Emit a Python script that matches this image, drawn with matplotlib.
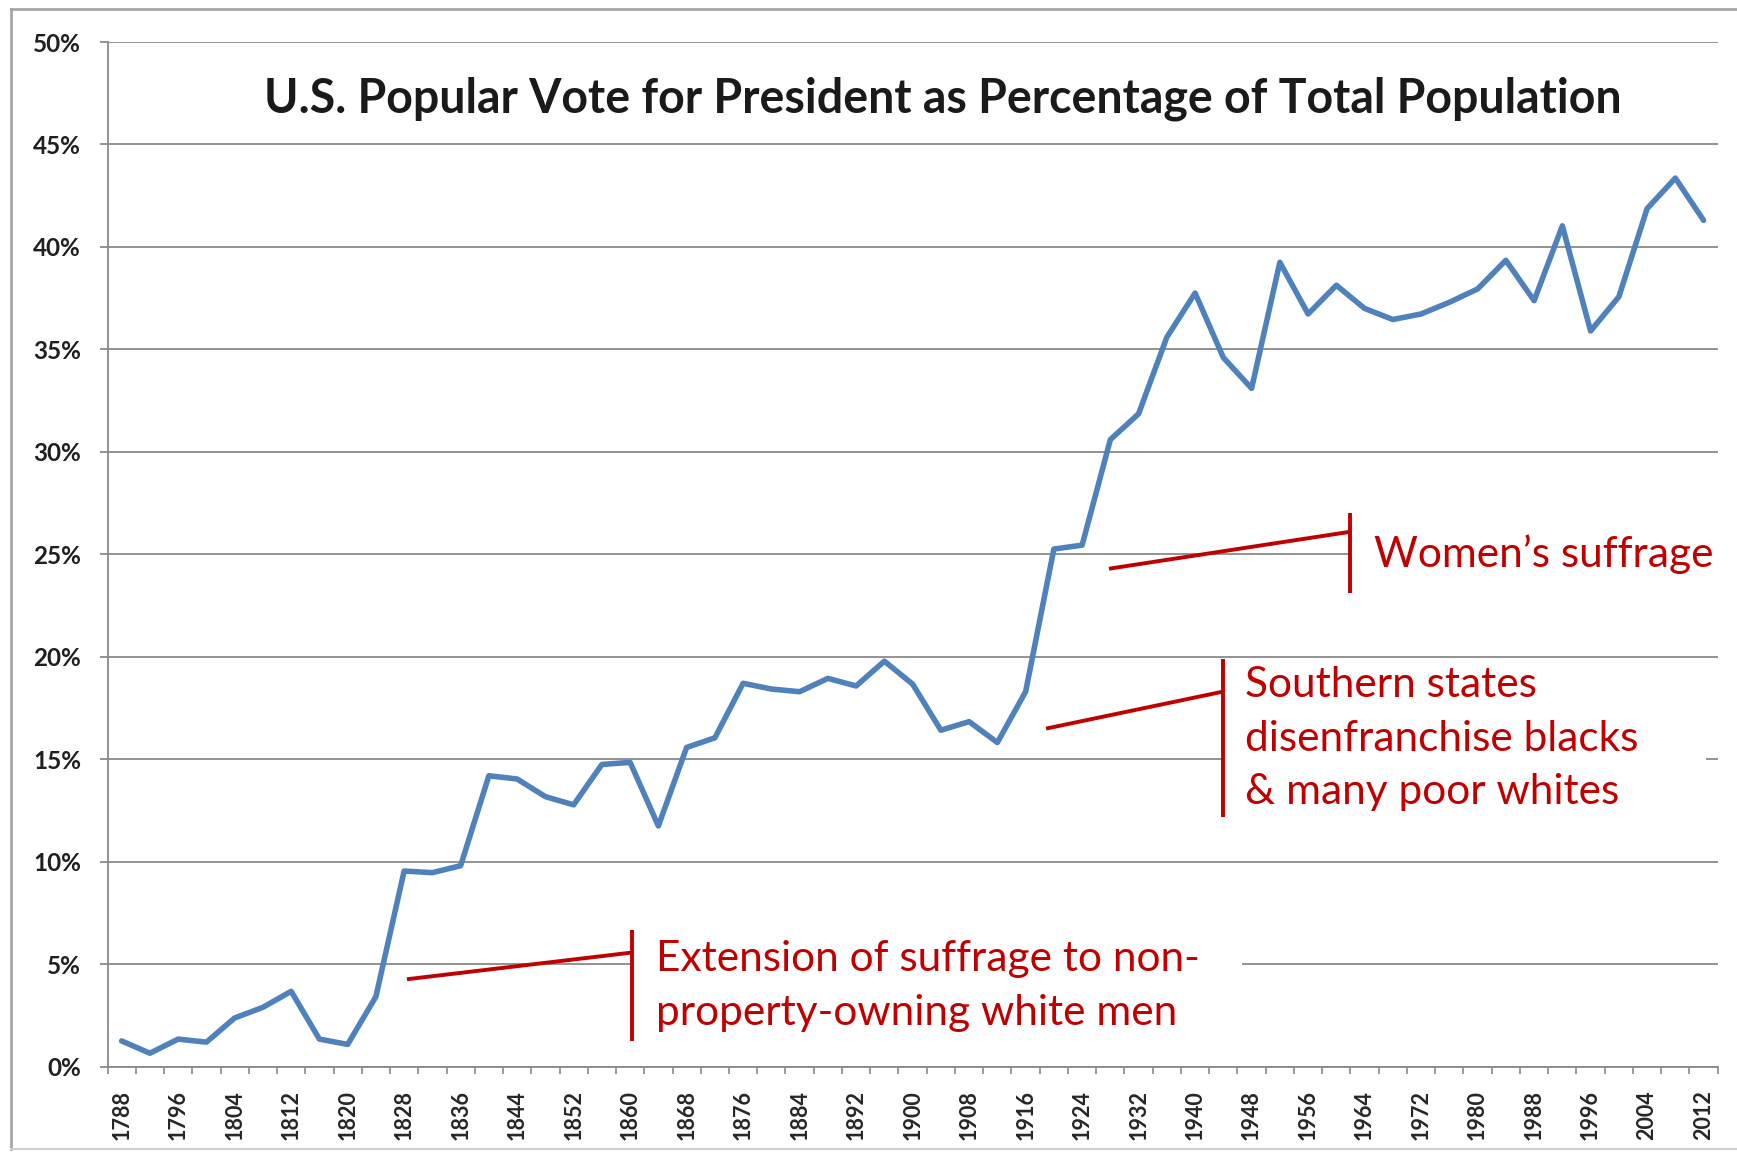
import numpy as np
import matplotlib
matplotlib.use("Agg")
import matplotlib.pyplot as plt
from matplotlib.lines import Line2D
from matplotlib.patches import Rectangle
from matplotlib.ticker import FuncFormatter

# election years and popular vote as % of total population
years = list(range(1788, 2013, 4))
vote_pct = [1.26, 0.66, 1.35, 1.2, 2.38, 2.9, 3.68, 1.35, 1.09, 3.42,
            9.55, 9.47, 9.81, 14.2, 14.04, 13.18, 12.78, 14.75, 14.85, 11.75,
            15.58, 16.05, 18.71, 18.43, 18.3, 18.95, 18.58, 19.79, 18.67, 16.42,
            16.84, 15.82, 18.3, 25.26, 25.45, 30.6, 31.86, 35.6, 37.75, 34.6,
            33.1, 39.25, 36.73, 38.13, 37.0, 36.46, 36.73, 37.3, 37.95, 39.35,
            37.38, 41.03, 35.9, 37.57, 41.87, 43.36, 41.3]
tick_years = list(range(1788, 2013, 8))
y_ticks = list(range(0, 51, 5))

title = "U.S. Popular Vote for President as Percentage of Total Population"
notes = ["Women\u2019s suffrage",
         "Southern states\ndisenfranchise blacks\n& many poor whites",
         "Extension of suffrage to non-\nproperty-owning white men"]

plt.rcParams['font.family'] = ['Lato', 'DejaVu Sans']

fig = plt.figure(figsize=(17.37, 11.54), dpi=100)
ax = fig.add_axes([0.0619, 0.0756, 0.927, 0.888])

ax.plot(years, vote_pct, color='#4F81BD', lw=4.0, solid_joinstyle='round',
        solid_capstyle='round', zorder=3)

ax.set_xlim(1786, 2014)
ax.set_ylim(0, 50)
ax.set_yticks(y_ticks)
ax.yaxis.set_major_formatter(FuncFormatter(lambda v, p: f"{v:.0f}%"))
ax.yaxis.grid(True, color='#8a8a8a', lw=1.3)
ax.set_axisbelow(True)

ax.set_xticks(tick_years)
ax.set_xticklabels([str(y) for y in tick_years], rotation=90,
                   fontsize=15.5, fontweight='bold', color='#262626')
ax.set_xticks(np.arange(1786, 2015, 4), minor=True)
ax.tick_params(axis='x', which='major', length=0, pad=17)
ax.tick_params(axis='x', which='minor', length=5, width=1.2, color='#8a8a8a',
               direction='out')
ax.tick_params(axis='y', length=6, width=1.3, color='#8a8a8a', pad=13,
               labelsize=17.5)
for lab in ax.get_yticklabels():
    lab.set_fontweight('bold')
    lab.set_color('#1f1f1f')

for s in ['top', 'right']:
    ax.spines[s].set_visible(False)
for s in ['left', 'bottom']:
    ax.spines[s].set_color('#8a8a8a')
    ax.spines[s].set_linewidth(1.3)

fig.text(0.543, 0.9146, title, ha='center', va='center', fontsize=33.5,
         fontweight='bold', color='#1a1a1a')

# annotations: white backing, leader line, bracket bar and text
red = '#C00000'
ann = [
    dict(lead=([1927.8, 1961.9], [24.3, 26.1]), bar=(1961.9, 23.1, 27.0),
         box=(1961.9, 2014, 23.1, 27.0), xy=(1965.4, 25.0), text=notes[0]),
    dict(lead=([1918.9, 1943.9], [16.5, 18.3]), bar=(1943.9, 12.2, 19.9),
         box=(1943.9, 2012.3, 11.5, 19.8), xy=(1947.1, 16.0), text=notes[1]),
    dict(lead=([1828.4, 1860.2], [4.27, 5.57]), bar=(1860.2, 1.24, 6.65),
         box=(1860.2, 1946.6, 1.0, 7.0), xy=(1863.6, 3.95), text=notes[2]),
]
for a in ann:
    x0, x1, y0, y1 = a['box']
    ax.add_patch(Rectangle((x0, y0), x1 - x0, y1 - y0, fc='white', ec='none',
                           zorder=2))
    ax.text(a['xy'][0], a['xy'][1], a['text'], ha='left', va='center',
            fontsize=30.5, color=red, linespacing=1.5, zorder=4)
    ax.plot(*a['lead'], color=red, lw=2.8, zorder=5, solid_capstyle='butt')
    bx, b0, b1 = a['bar']
    ax.plot([bx, bx], [b0, b1], color=red, lw=2.8, zorder=5,
            solid_capstyle='butt')

# outer frame of the picture
fc = '#a6a6a6'
fig.add_artist(Line2D([0.0064, 1], [0.9923, 0.9923], color=fc, lw=2))
fig.add_artist(Line2D([0.0064, 0.0064], [0.004, 0.9923], color=fc, lw=2))
fig.add_artist(Line2D([0.0064, 1], [0.004, 0.004], color='#cfcfcf', lw=1.5))

fig.savefig('out.png', dpi=100)
